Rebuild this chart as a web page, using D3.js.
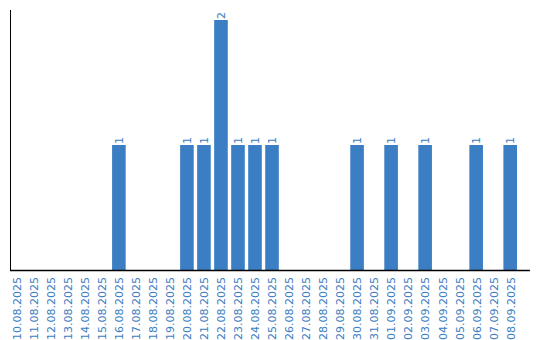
<!DOCTYPE html>
<html lang="en">
<head>
<meta charset="UTF-8">
<title>Daily counts</title>
<script src="https://cdn.jsdelivr.net/npm/d3@7"></script>
<style>
   body { margin: 0; background: #fff; }
   #chart text { font: 11px "DejaVu Sans", sans-serif; fill: #3a7dc2; }
</style>
</head>
<body>
<div id="chart"></div>
<script>
   // data
   var dates = ["10.08.2025","11.08.2025","12.08.2025","13.08.2025","14.08.2025","15.08.2025",
      "16.08.2025","17.08.2025","18.08.2025","19.08.2025","20.08.2025","21.08.2025","22.08.2025",
      "23.08.2025","24.08.2025","25.08.2025","26.08.2025","27.08.2025","28.08.2025","29.08.2025",
      "30.08.2025","31.08.2025","01.09.2025","02.09.2025","03.09.2025","04.09.2025","05.09.2025",
      "06.09.2025","07.09.2025","08.09.2025"];
   var counts = [0,0,0,0,0,0, 1,0,0,0,1,1,2, 1,1,1,0,0,0,0, 1,0,1,0,1,0,0, 1,0,1];

   var data = dates.map(function(d, i) { return { date: d, n: counts[i] }; });

   var svg = d3.select("#chart").append("svg").attr("width", 540).attr("height", 340);

   var x = d3.scaleBand().domain(dates).range([10, 517]).paddingInner(0.2).paddingOuter(0);
   var y = d3.scaleLinear().domain([0, 2.08]).range([270, 10]);

   svg.selectAll(".bar")
      .data(data.filter(function(d) { return d.n > 0; }))
      .enter().append("rect")
      .attr("class", "bar")
      .attr("x", function(d) { return x(d.date); })
      .attr("y", function(d) { return y(d.n); })
      .attr("width", x.bandwidth())
      .attr("height", function(d) { return y(0) - y(d.n); })
      .attr("fill", "#3b7ec3");

   // value labels, turned up
   svg.selectAll(".val")
      .data(data.filter(function(d) { return d.n > 0; }))
      .enter().append("text")
      .attr("class", "val")
      .attr("transform", function(d) {
         return "translate(" + (x(d.date) + x.bandwidth() / 2) + "," + (y(d.n) - 1) + ") rotate(-90)";
      })
      .attr("dy", "0.35em")
      .text(function(d) { return d.n; });

   // date labels under the axis
   svg.selectAll(".lab")
      .data(data)
      .enter().append("text")
      .attr("class", "lab")
      .attr("text-anchor", "end")
      .attr("transform", function(d) {
         return "translate(" + (x(d.date) + x.bandwidth() / 2 + 0.5) + ",277) rotate(-90)";
      })
      .attr("dy", "0.35em")
      .text(function(d) { return d.date; });

   // axis lines
   svg.append("line")
      .attr("x1", 10.5).attr("x2", 10.5).attr("y1", 10).attr("y2", 270.5)
      .attr("stroke", "#000");
   svg.append("line")
      .attr("x1", 10).attr("x2", 530).attr("y1", 270.5).attr("y2", 270.5)
      .attr("stroke", "#000").attr("stroke-width", 1.5);
</script>
</body>
</html>
